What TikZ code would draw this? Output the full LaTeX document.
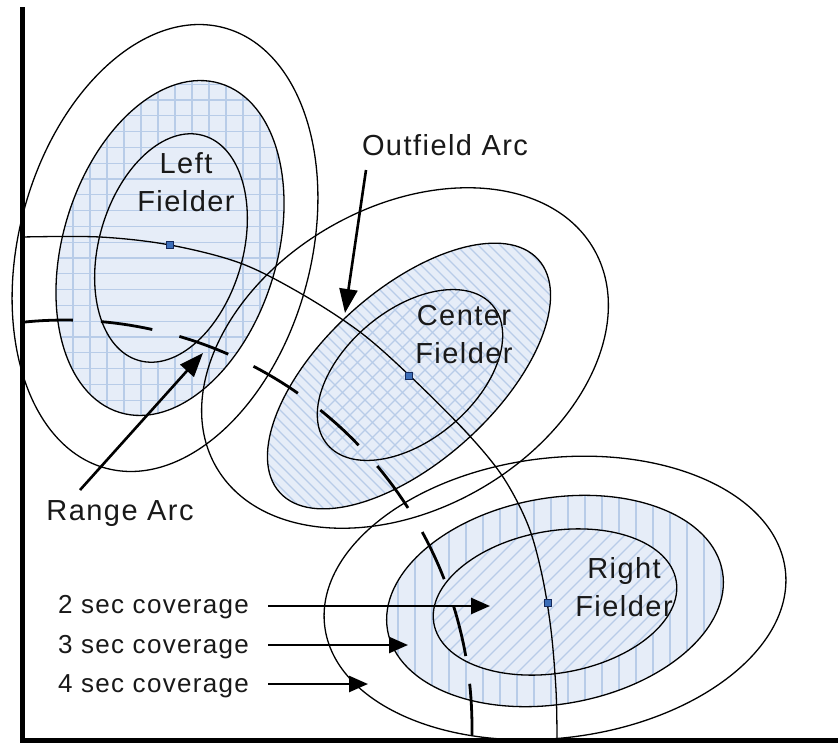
\documentclass[tikz,border=0pt]{standalone}
\usepackage{fontspec}
\setmainfont{Liberation Sans}[LetterSpace=5]
\usetikzlibrary{arrows.meta}
\definecolor{fillblue}{RGB}{230,237,248}
\definecolor{patblue}{RGB}{184,204,232}
\definecolor{dotblue}{RGB}{60,110,185}
\definecolor{dotedge}{RGB}{20,40,90}
\definecolor{txtgray}{RGB}{25,25,25}
% clipped, filled ellipse: cx, cy, rotation, x radius, y radius, pattern code
\newcommand\FillEll[6]{%
  \begin{scope}
    \clip[shift={(#1,#2)},rotate=#3] (0,0) ellipse [x radius=#4,y radius=#5];
    \fill[fillblue] (#1-270,#2-270) rectangle (#1+270,#2+270);
    #6
  \end{scope}}
\newcommand\LineEll[5]{%
  \draw[outl,shift={(#1,#2)},rotate=#3] (0,0) ellipse [x radius=#4,y radius=#5];}
\begin{document}
\begin{tikzpicture}[x=1pt,y=-1pt,
  outl/.style={draw=black,line width=1.3pt},
  pat/.style={draw=patblue,line width=1.1pt},
  axisline/.style={line width=5pt},
  rangeline/.style={line width=2.8pt,dash pattern=on 52pt off 28pt},
  ptr/.style={line width=2.6pt,-{Triangle[length=24pt,width=18pt]}},
  covptr/.style={line width=2.6pt,-{Triangle[length=19pt,width=16pt]}},
  dotnode/.style={rectangle,draw=dotedge,fill=dotblue,line width=0.8pt,minimum size=7.5pt,inner sep=0pt},
  lbl/.style={inner sep=0pt,text=txtgray,font=\fontsize{29}{38}\selectfont,align=center},
  covlbl/.style={inner sep=0pt,text=txtgray,font=\fontsize{26}{30}\selectfont,anchor=base west}]
\useasboundingbox (0,0) rectangle (838,747);
\fill[white] (0,0) rectangle (838,747);

% ---------- fills ----------
% Left fielder: ring with grid, inner with horizontal lines
\FillEll{170}{248}{-17}{107}{172}{%
  \foreach \y in {68.4,84.2,...,430} \draw[pat] (50,\y) -- (300,\y);
  \foreach \x in {56,73,...,300} \draw[pat] (\x,60) -- (\x,430);}
\FillEll{171}{248}{-16}{72}{117}{%
  \foreach \y in {68.4,84.2,...,430} \draw[pat] (50,\y) -- (300,\y);}
% Center fielder: ring with \ hatching, inner with crosshatch
\FillEll{409}{376}{42}{174}{86}{%
  \foreach \c in {-420,-409,...,340} \draw[pat] (200,200+\c) -- (650,650+\c);}
\FillEll{410}{375}{40}{108}{65}{%
  \foreach \c in {-250,-235,...,190} \draw[pat] (290,290+\c) -- (530,530+\c);
  \foreach \d in {570,585,...,1010} \draw[pat] (290,\d-290) -- (530,\d-530);}
% Right fielder: ring with vertical lines, inner with / hatching
\FillEll{555}{601}{10}{170}{103}{%
  \foreach \x in {381,398,...,740} \draw[pat] (\x,480) -- (\x,720);}
\FillEll{555}{602}{10}{123}{71}{%
  \foreach \d in {935,950,...,1380} \draw[pat] (420,\d-420) -- (690,\d-690);}

% ---------- outlines ----------
\LineEll{165}{248}{-15}{146}{228}
\LineEll{170}{248}{-17}{107}{172}
\LineEll{171}{248}{-16}{72}{117}
\LineEll{405}{358}{30}{218}{151}
\LineEll{409}{376}{42}{174}{86}
\LineEll{410}{375}{40}{108}{65}
\LineEll{555}{598}{7}{232}{140}
\LineEll{555}{601}{10}{170}{103}
\LineEll{555}{602}{10}{123}{71}

% ---------- outfield arc and range arc ----------
\draw[outl] plot[smooth,tension=0.55] coordinates {(22,237) (100,237) (170,245) (240,263) (300,293) (360,332) (410,376) (467,433) (503,477) (528,525) (542,575) (551,630) (556,690) (557,738)};
\draw[rangeline] plot[domain=96.2:-1.1,samples=90] ({65+407*cos(\x)},{727-407*sin(\x)});

% ---------- axes ----------
\coordinate (ytop) at (22,7);
\coordinate (orig) at (22,740);
\coordinate (xend) at (838,740);
\draw[axisline] (ytop) -- (orig) -- (xend);

% ---------- fielder positions ----------
\node[dotnode] (lfdot) at (170,245) {};
\node[dotnode] (cfdot) at (409,376) {};
\node[dotnode] (rfdot) at (548,603) {};

% ---------- labels ----------
\node[lbl] (lf) at (186,182) {Left\\Fielder};
\node[lbl] (cf) at (464,335) {Center\\Fielder};
\node[lbl] (rf) at (624,587) {Right\\Fielder};
\node[lbl,anchor=base] (oflbl) at (445,155) {Outfield Arc};
\node[lbl,anchor=base] (ralbl) at (120,520) {Range Arc};
\node[covlbl] (c2) at (58,613) {2 sec coverage};
\node[covlbl] (c3) at (58,653) {3 sec coverage};
\node[covlbl] (c4) at (58,692) {4 sec coverage};

% ---------- arrows ----------
\coordinate (ofA) at (366,170);
\coordinate (ofB) at (345,313);
\coordinate (raA) at (80,490);
\coordinate (raB) at (203,353);
\coordinate (c2A) at (268,606);
\coordinate (c2B) at (490,606);
\coordinate (c3A) at (268,645);
\coordinate (c3B) at (408,645);
\coordinate (c4A) at (268,684);
\coordinate (c4B) at (368,684);
\draw[ptr] (ofA) -- (ofB);
\draw[ptr] (raA) -- (raB);
\draw[covptr] (c2A) -- (c2B);
\draw[covptr] (c3A) -- (c3B);
\draw[covptr] (c4A) -- (c4B);
\end{tikzpicture}
\end{document}
